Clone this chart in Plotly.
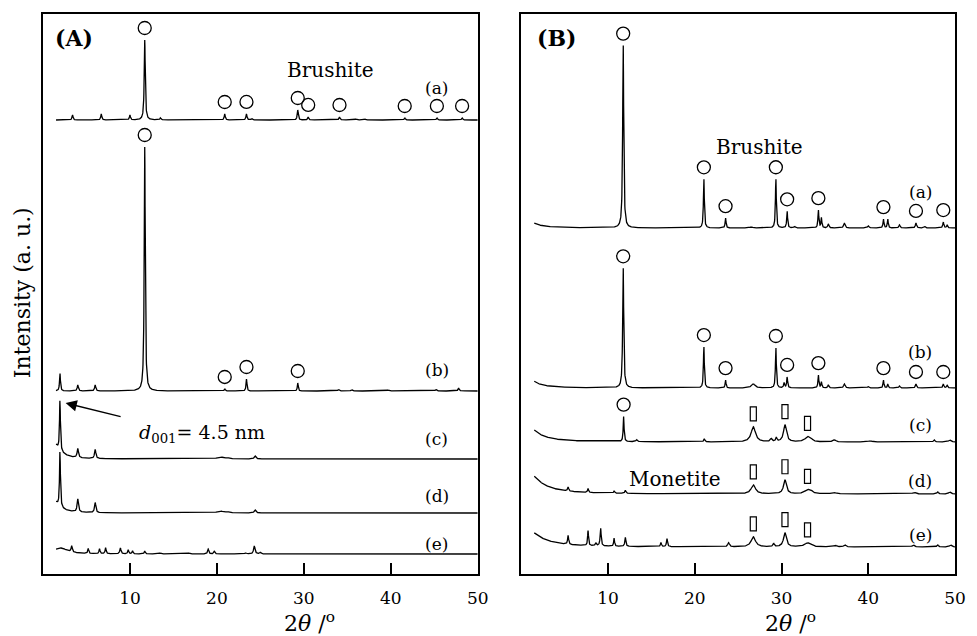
import numpy as np
import plotly.graph_objects as go

# ---- diffraction data -------------------------------------------------------
# Each pattern is a table of reflections: (2θ / °, intensity / a.u., half width / °)
two_theta = np.round(np.arange(1.5, 50.0001, 0.02), 3)

peaks_A_a = [(3.4, 5, 0.07), (6.7, 6, 0.07), (10.0, 5, 0.07), (11.7, 80, 0.07), (13.5, 2, 0.08),
             (20.9, 6, 0.07), (23.4, 6, 0.07), (24.0, 1.5, 0.1), (29.3, 10, 0.07), (30.5, 3, 0.07),
             (34.1, 3, 0.08), (36.0, 1, 0.1), (37.0, 1, 0.1), (41.6, 2, 0.08), (45.3, 2, 0.08),
             (48.2, 2, 0.08)]
peaks_A_b = [(1.95, 18, 0.06), (4.0, 6, 0.08), (6.0, 6, 0.08), (11.7, 244, 0.07), (20.9, 2, 0.08),
             (23.4, 12, 0.06), (29.3, 8, 0.06), (34.0, 1.5, 0.1), (35.5, 1.5, 0.1), (39.7, 1, 0.1),
             (45.2, 1.5, 0.1), (47.8, 3, 0.08)]
peaks_A_c = [(1.0, 18.5, 0.88), (1.95, 51, 0.06), (4.0, 9, 0.09), (6.0, 9, 0.09), (20.4, 2, 0.4),
             (21.2, 1, 0.2), (24.4, 3, 0.12)]
peaks_A_d = [(1.0, 14, 0.88), (1.95, 56, 0.06), (4.0, 13, 0.09), (6.0, 10, 0.09), (20.4, 2, 0.4),
             (21.2, 1, 0.2), (24.4, 3, 0.12)]
peaks_A_e = [(2.0, 6, 1.0), (3.3, 6, 0.08), (5.2, 5, 0.07), (6.5, 5, 0.07), (7.2, 6, 0.07),
             (8.9, 6, 0.08), (9.8, 4, 0.07), (10.3, 3, 0.07), (11.7, 3, 0.07), (13.5, 1, 0.1),
             (16.8, 1, 0.1), (19.0, 5, 0.08), (19.7, 3, 0.08), (23.3, 1, 0.1), (24.3, 8, 0.1),
             (25.0, 1.5, 0.1)]

peaks_B_a = [(0.0, 16, 1.0), (11.75, 186, 0.07), (21.05, 50, 0.06), (23.55, 10, 0.06), (26.5, 1, 0.2),
             (29.35, 50, 0.06), (30.65, 17, 0.06), (31.5, 1.5, 0.1), (34.25, 18, 0.06), (34.6, 10, 0.06),
             (35.4, 4, 0.08), (37.25, 5, 0.1), (40.0, 2, 0.1), (41.75, 9, 0.06), (42.25, 9, 0.06),
             (43.6, 3, 0.08), (45.5, 5, 0.08), (46.5, 1.5, 0.1), (48.65, 6, 0.07), (49.1, 3, 0.07)]
peaks_B_b = [(0.0, 22, 1.0), (11.75, 122, 0.07), (21.05, 42, 0.06), (23.55, 8, 0.06), (26.75, 4, 0.25),
             (29.35, 41, 0.06), (30.3, 5, 0.07), (30.65, 11, 0.06), (34.25, 13, 0.06), (34.6, 6, 0.06),
             (35.4, 3, 0.08), (37.25, 4, 0.1), (40.0, 1.5, 0.1), (41.75, 8, 0.06), (42.25, 4, 0.06),
             (43.6, 2, 0.08), (45.5, 4, 0.08), (48.65, 4, 0.07), (49.1, 3, 0.07)]
peaks_B_c = [(0.0, 24, 1.5), (11.8, 25, 0.06), (13.3, 2, 0.1), (21.1, 3, 0.08), (26.75, 15, 0.3),
             (28.8, 3, 0.12), (29.4, 4, 0.08), (30.4, 17, 0.2), (33.0, 5, 0.35), (33.4, 2, 0.2),
             (36.1, 2, 0.2), (40.2, 1, 0.3), (47.6, 2, 0.1), (49.4, 2, 0.15)]
peaks_B_d = [(0.0, 30, 1.8), (5.4, 4, 0.08), (7.7, 4, 0.07), (10.7, 2, 0.08), (12.0, 3, 0.08),
             (26.75, 9, 0.3), (30.4, 14, 0.2), (33.0, 4, 0.4), (33.4, 2, 0.2), (36.0, 1.5, 0.3),
             (45.3, 1.5, 0.2), (48.0, 2, 0.1), (49.4, 2, 0.15)]
peaks_B_e = [(0.0, 22, 2.0), (5.4, 9, 0.07), (7.7, 15, 0.06), (8.6, 3, 0.08), (9.15, 18, 0.07),
             (10.7, 8, 0.06), (12.0, 9, 0.07), (16.1, 4, 0.07), (16.8, 8, 0.07), (23.9, 4, 0.12),
             (26.75, 10, 0.3), (29.1, 3, 0.1), (30.4, 14, 0.2), (33.0, 4, 0.4), (36.2, 1.5, 0.2),
             (37.3, 2, 0.15), (45.2, 2, 0.15), (48.0, 2, 0.1), (49.5, 2, 0.15)]

# phase reflections flagged on each pattern
brushite_A_a = [11.7, 20.9, 23.4, 29.3, 30.5, 34.1, 41.6, 45.3, 48.2]
brushite_A_b = [11.7, 20.9, 23.4, 29.3]
brushite_B_ab = [11.75, 21.05, 23.55, 29.35, 30.65, 34.25, 41.75, 45.5, 48.65]
brushite_B_c = [11.8]
monetite_B = [26.75, 30.4, 33.0]

sample_labels = ["(a)", "(b)", "(c)", "(d)", "(e)"]
tick_values = [10, 20, 30, 40, 50]

# vertical stacking of the patterns (a.u.)
offsets_A = [454, 183, 115, 61, 20]
offsets_B = [346, 186, 132, 80, 27]


def pattern(peaks):
    y = np.zeros_like(two_theta)
    for pos, h, w in peaks:
        y += h / (1 + ((two_theta - pos) / w) ** 2)
    return y


def top_at(y, pos):
    win = np.abs(two_theta - pos) <= 0.15
    return float(y[win].max())


FONT = "DejaVu Serif"
fig = go.Figure()
annotations = []
shapes = []

panels = [
    ("x", "y", [peaks_A_a, peaks_A_b, peaks_A_c, peaks_A_d, peaks_A_e], offsets_A,
     [brushite_A_a, brushite_A_b, [], [], []], [False] * 5),
    ("x2", "y2", [peaks_B_a, peaks_B_b, peaks_B_c, peaks_B_d, peaks_B_e], offsets_B,
     [brushite_B_ab, brushite_B_ab, brushite_B_c, [], []], [False, False, True, True, True]),
]

for xa, ya, tables, offs, circles, has_monetite in panels:
    for tbl, off, circ, mono in zip(tables, offs, circles, has_monetite):
        y = pattern(tbl) + off
        fig.add_trace(go.Scatter(x=two_theta, y=y, mode="lines", xaxis=xa, yaxis=ya,
                                 line=dict(color="black", width=1.3), showlegend=False,
                                 hoverinfo="skip"))
        if circ:
            fig.add_trace(go.Scatter(x=circ, y=[top_at(y, p) + 12 for p in circ], mode="markers",
                                     xaxis=xa, yaxis=ya, showlegend=False, hoverinfo="skip",
                                     marker=dict(symbol="circle-open", size=13, color="black",
                                                 line=dict(width=1.3))))
        if mono:
            for p in monetite_B:
                yc = top_at(y, p) + 13
                shapes.append(dict(type="rect", xref=xa, yref=ya, x0=p - 0.35, x1=p + 0.35,
                                   y0=yc - 7, y1=yc + 7, line=dict(color="black", width=1.2),
                                   fillcolor="white"))

# sample labels beside each pattern
label_y_A = [486, 204, 135, 78, 30]
label_y_B = [382, 222, 149, 93, 39]
for lbl, ya_, yb_ in zip(sample_labels, label_y_A, label_y_B):
    annotations.append(dict(x=45.3, y=ya_, xref="x", yref="y", text=lbl, showarrow=False,
                            font=dict(family=FONT, size=17, color="black")))
    annotations.append(dict(x=46.0, y=yb_, xref="x2", yref="y2", text=lbl, showarrow=False,
                            font=dict(family=FONT, size=17, color="black")))

title_y = -48 / 560  # below the plotting area, in paper units
annotations += [
    dict(x=1.1, y=536, xref="x", yref="y", text="<b>(A)</b>", showarrow=False, xanchor="left",
         font=dict(family=FONT, size=22, color="black")),
    dict(x=1.6, y=536, xref="x2", yref="y2", text="<b>(B)</b>", showarrow=False, xanchor="left",
         font=dict(family=FONT, size=22, color="black")),
    dict(x=33.1, y=504, xref="x", yref="y", text="Brushite", showarrow=False,
         font=dict(family=FONT, size=20, color="black")),
    dict(x=27.5, y=427, xref="x2", yref="y2", text="Brushite", showarrow=False,
         font=dict(family=FONT, size=20, color="black")),
    dict(x=17.7, y=95, xref="x2", yref="y2", text="Monetite", showarrow=False,
         font=dict(family=FONT, size=20, color="black")),
    dict(x=10.8, y=141, xref="x", yref="y", text="<i>d</i><sub>001</sub>= 4.5 nm",
         showarrow=False, xanchor="left", font=dict(family=FONT, size=19, color="black")),
    dict(x=2.6, y=171, ax=9.1, ay=157, xref="x", yref="y", axref="x", ayref="y", text="",
         showarrow=True, arrowhead=2, arrowsize=1.6, arrowwidth=1.4, arrowcolor="black"),
    dict(x=30.7, y=title_y, xref="x", yref="paper", text="2<i>θ</i> /<sup>o</sup>",
         showarrow=False, xanchor="center", yanchor="middle",
         font=dict(family=FONT, size=22, color="black")),
    dict(x=31.0, y=title_y, xref="x2", yref="paper", text="2<i>θ</i> /<sup>o</sup>",
         showarrow=False, xanchor="center", yanchor="middle",
         font=dict(family=FONT, size=22, color="black")),
    dict(x=-0.0228, y=281 / 560, xref="paper", yref="paper", text="Intensity (a. u.)",
         showarrow=False, xanchor="center", yanchor="middle", textangle=-90,
         font=dict(family=FONT, size=22, color="black")),
]

xaxis_style = dict(range=[0, 50], tickvals=tick_values, ticks="inside", ticklen=11, tickwidth=1.5,
                   tickcolor="black", showline=True, linewidth=2, linecolor="black", mirror=True,
                   showgrid=False, zeroline=False, tickfont=dict(family=FONT, size=17, color="black"),
                   ticklabelstandoff=8)
yaxis_style = dict(range=[0, 560], showticklabels=False, ticks="", showline=True, linewidth=2,
                   linecolor="black", mirror=True, showgrid=False, zeroline=False)

fig.update_layout(
    width=977, height=636,
    margin=dict(l=43, r=11, t=14, b=62),
    paper_bgcolor="white", plot_bgcolor="white",
    xaxis=dict(domain=[0, 0.4767], anchor="y", **xaxis_style),
    xaxis2=dict(domain=[0.5244, 1], anchor="y2", **xaxis_style),
    yaxis=dict(domain=[0, 1], anchor="x", **yaxis_style),
    yaxis2=dict(domain=[0, 1], anchor="x2", **yaxis_style),
    annotations=annotations,
    shapes=shapes,
)

fig.write_html("out.html")
